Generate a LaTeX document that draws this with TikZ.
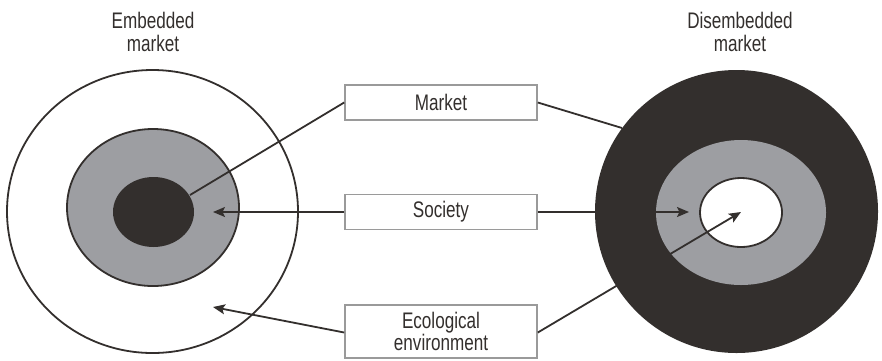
\documentclass[tikz,border=0pt]{standalone}
\usepackage{fontspec}
\setmainfont{Liberation Sans}[FakeStretch=0.76]
\usetikzlibrary{arrows.meta}
\definecolor{inkdark}{HTML}{332F2D}
\definecolor{ringgrey}{HTML}{9D9EA2}
\definecolor{boxgrey}{HTML}{9A9A9A}
\tikzset{
  ring/.style={draw=inkdark, line width=1.8pt},
  label box/.style={draw=boxgrey, line width=1.6pt, fill=white, minimum width=192pt,
    minimum height=35pt, inner sep=0pt, font=\fontsize{22.5}{22}\selectfont, align=center, text=inkdark},
  title/.style={font=\fontsize{22.5}{23.5}\selectfont, align=center, text=inkdark},
  link/.style={draw=inkdark, line width=1.8pt},
  pointer/.style={link, -{Stealth[length=12pt, width=10pt, inset=2.5pt]}}
}
\begin{document}
\begin{tikzpicture}[x=1pt, y=-1pt]
  \useasboundingbox (0,0) rectangle (882,360);

  % embedded market: society contains the market, nature contains both
  \draw[ring, fill=white] (152.5,211.5) ellipse [x radius=145.5, y radius=141.5];
  \draw[ring, fill=ringgrey] (153,207.5) ellipse [x radius=86, y radius=78.5];
  \fill[inkdark] (153.5,212) ellipse [x radius=40.5, y radius=35];

  % disembedded market: the market surrounds society and nature
  \fill[inkdark] (736.5,211.5) ellipse [x radius=141.5, y radius=141.5];
  \fill[ringgrey] (741,212.5) ellipse [x radius=85, y radius=72.5];
  \draw[ring, fill=white] (741,212.5) ellipse [x radius=41, y radius=34.5];

  % headings
  \node[title] (embT) at (153,32) {Embedded\\market};
  \node[title] (disT) at (740,32) {Disembedded\\market};

  % labels
  \node[label box] (mkt) at (441,102.5) {Market};
  \node[label box] (soc) at (441,212) {Society};
  \node[label box, minimum height=53pt, font=\fontsize{22.5}{19.5}\selectfont] (eco) at (441,331.5) {Ecological\\environment};

  % anchor points on the circles
  \coordinate (mktL) at (190,195);
  \coordinate (mktR) at (622,128);
  \coordinate (socL) at (213,212);
  \coordinate (socR) at (689,212);
  \coordinate (ecoL) at (213,307);
  \coordinate (ecoR) at (741,212);

  \draw[link] (mkt.west) -- (mktL);
  \draw[link] (mkt.east) -- (mktR);
  \draw[pointer] (soc.west) -- (socL);
  \draw[pointer] (soc.east) -- (socR);
  \draw[pointer] ([yshift=-1pt]eco.west) -- (ecoL);
  \draw[pointer] ([yshift=-1pt]eco.east) -- (ecoR);
\end{tikzpicture}
\end{document}
